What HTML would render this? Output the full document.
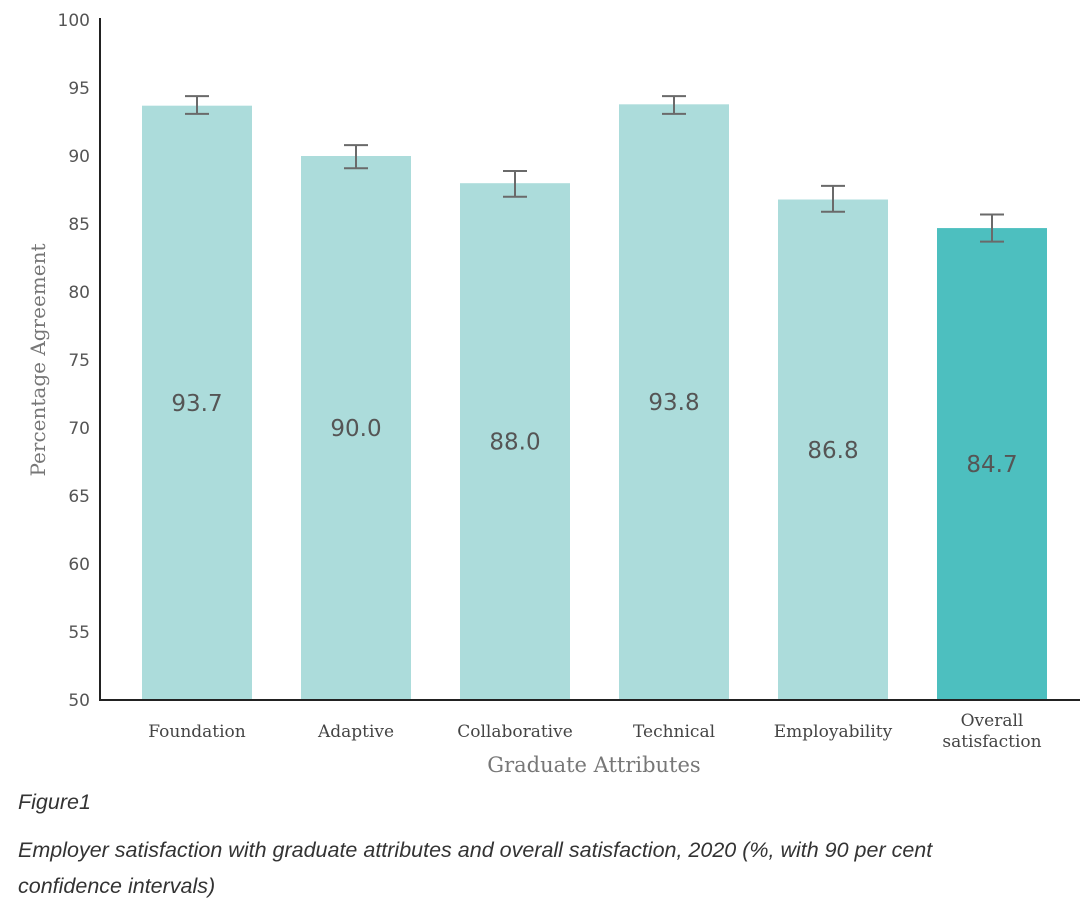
<!DOCTYPE html>
<html><head><meta charset="utf-8"><style>
body{margin:0;background:#fff;width:1080px;height:909px;overflow:hidden;font-family:"Liberation Sans",sans-serif}
svg{position:absolute;left:0;top:0}
.cap{position:absolute;left:18px;font-style:italic;color:#333;font-size:21.5px}
</style></head><body>
<svg id="chart" width="1080" height="780"></svg>
<div class="cap" style="top:790px">Figure1</div>
<div class="cap" style="top:832px;line-height:36px;width:985px">Employer satisfaction with graduate attributes and overall satisfaction, 2020 (%, with 90 per cent confidence intervals)</div>
<script>
const categories=["Foundation","Adaptive","Collaborative","Technical","Employability","Overall satisfaction"];
const values=[93.7,90.0,88.0,93.8,86.8,84.7];
const ciLow=[93.1,89.1,87.0,93.1,85.9,83.7];
const ciHigh=[94.4,90.8,88.9,94.4,87.8,85.7];
const yTicks=[50,55,60,65,70,75,80,85,90,95,100];
const NS="http://www.w3.org/2000/svg";
const svg=document.getElementById('chart');
const y=v=>700-(v-50)*13.6;
const x=i=>142+i*159;
const bw=110;
function mk(t,a,p){const e=document.createElementNS(NS,t);for(const k in a)e.setAttribute(k,a[k]);(p||svg).appendChild(e);return e;}
yTicks.forEach(t=>{
 const e=mk('text',{x:90,y:y(t)+6,'text-anchor':'end','font-size':17,fill:'#555','font-family':'DejaVu Sans, sans-serif'});e.textContent=t;
 
 
});
categories.forEach((c,i)=>{
 const last=i===categories.length-1;
 const r=mk('rect',{x:x(i),y:y(values[i]),width:bw,height:y(50)-y(values[i]),fill:last?'#4dbfbf':'#acdcdb'});
 
 
 const cx=x(i)+bw/2;
 const g=mk('g',{stroke:'#6a6a6a','stroke-width':2});
 
 
 mk('line',{x1:cx,x2:cx,y1:y(ciLow[i]),y2:y(ciHigh[i])},g);
 mk('line',{x1:cx-12,x2:cx+12,y1:y(ciLow[i]),y2:y(ciLow[i])},g);
 mk('line',{x1:cx-12,x2:cx+12,y1:y(ciHigh[i]),y2:y(ciHigh[i])},g);
 const v=mk('text',{x:cx,y:(y(values[i])+y(50))/2+8,'text-anchor':'middle','font-size':23,fill:'#555','font-family':'DejaVu Sans, sans-serif'});
 v.textContent=values[i].toFixed(1);
 
 
 const words=last?["Overall","satisfaction"]:[c];
 const l=mk('text',{'text-anchor':'middle','font-size':17,fill:'#444','font-family':'DejaVu Serif, serif'});
 
 
 words.forEach((w,j)=>{const ts=mk('tspan',{x:cx,y:(last?726:737)+j*21},l);ts.textContent=w;});
});
const ax=mk('path',{d:'M100 18 V700 H1080',stroke:'#222','stroke-width':2,fill:'none'});


const xt=mk('text',{x:594,y:772,'text-anchor':'middle','font-size':21,fill:'#777','font-family':'DejaVu Serif, serif'});
xt.textContent='Graduate Attributes';


const yt=mk('text',{x:0,y:0,transform:'translate(45,360) rotate(-90)','text-anchor':'middle','font-size':20,fill:'#777','font-family':'DejaVu Serif, serif'});
yt.textContent='Percentage Agreement';


</script>
</body></html>
